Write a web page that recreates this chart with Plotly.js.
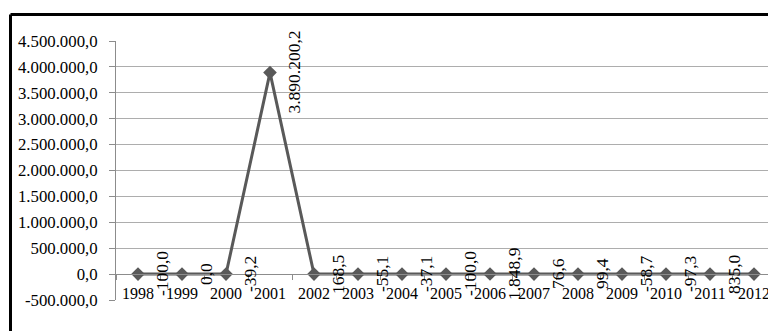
<!DOCTYPE html>
<html>
<head>
<meta charset="utf-8">
<script src="https://cdn.plot.ly/plotly-3.0.1.min.js"></script>
<style>
  html, body { margin: 0; padding: 0; background: #ffffff; }
  #chart { width: 768px; height: 331px; }
</style>
</head>
<body>
<div id="chart"></div>
<script>
// Yearly series
const years = ['1998', '1999', '2000', '2001', '2002', '2003', '2004', '2005',
               '2006', '2007', '2008', '2009', '2010', '2011', '2012'];
const values = [-100.0, 0.0, -39.2, 3890200.2, 168.5, -55.1, -37.1, -100.0,
                1848.9, 76.6, 99.4, -58.7, -97.3, 835.0, 0.0];

// Value axis ticks
const yTickValues = [-500000, 0, 500000, 1000000, 1500000, 2000000, 2500000,
                     3000000, 3500000, 4000000, 4500000];

const FONT = 'Liberation Serif';
const LINE_GREY = '#595959';
const GRID_GREY = '#adadad';
const AXIS_GREY = '#8c8c8c';

// 1.234.567,8 style number text
function fmt(v) {
  const neg = v < 0;
  const parts = Math.abs(v).toFixed(1).split('.');
  const intPart = parts[0].replace(/\B(?=(\d{3})+(?!\d))/g, '.');
  return (neg ? '-' : '') + intPart + ',' + parts[1];
}

const yMin = yTickValues[0];
const yMax = yTickValues[yTickValues.length - 1];

const trace = {
  x: years,
  y: values,
  type: 'scatter',
  mode: 'lines+markers',
  line: { color: LINE_GREY, width: 3 },
  marker: { symbol: 'diamond', size: 10.5, color: LINE_GREY },
  hoverinfo: 'x+y',
  showlegend: false
};

// Vertical value labels to the right of each point
const labels = years.map((yr, i) => ({
  x: i,
  y: values[i],
  xref: 'x',
  yref: 'y',
  text: fmt(values[i]),
  textangle: -90,
  xshift: 24,
  showarrow: false,
  font: { family: FONT, size: 17.5, color: '#000000' }
}));

const margin = { l: 116, r: 0, t: 41, b: 31 };
const plotW = 768 - margin.l - margin.r;
const plotH = 331 - margin.t - margin.b;
const px2paperX = p => (p - margin.l) / plotW;
const px2paperY = p => (331 - margin.b - p) / plotH;

const layout = {
  width: 768,
  height: 331,
  margin: margin,
  paper_bgcolor: '#ffffff',
  plot_bgcolor: '#ffffff',
  font: { family: FONT, color: '#000000' },
  xaxis: {
    type: 'category',
    range: [-0.5, -0.5 + plotW / 44],
    anchor: 'free',
    position: (0 - yMin) / (yMax - yMin),
    showline: true,
    linecolor: AXIS_GREY,
    linewidth: 1,
    showgrid: false,
    ticks: 'outside',
    ticklen: 5,
    tickcolor: AXIS_GREY,
    tickson: 'boundaries',
    ticklabelstandoff: 5,
    tickfont: { family: FONT, size: 16, color: '#000000' },
    zeroline: false,
    fixedrange: true
  },
  yaxis: {
    range: [yMin, yMax],
    tickvals: yTickValues,
    ticktext: yTickValues.map(fmt),
    showline: true,
    linecolor: AXIS_GREY,
    linewidth: 1,
    showgrid: true,
    gridcolor: GRID_GREY,
    gridwidth: 1,
    zeroline: true,
    zerolinecolor: AXIS_GREY,
    zerolinewidth: 1,
    ticks: 'outside',
    ticklen: 6,
    tickcolor: AXIS_GREY,
    ticklabelstandoff: 8,
    tickfont: { family: FONT, size: 16.8, color: '#000000' },
    fixedrange: true
  },
  annotations: labels,
  shapes: [
    // chart frame (top and left edges)
    { type: 'line', xref: 'paper', yref: 'paper',
      x0: px2paperX(10.5), x1: px2paperX(800),
      y0: px2paperY(14.5), y1: px2paperY(14.5),
      line: { color: '#000000', width: 3 } },
    { type: 'line', xref: 'paper', yref: 'paper',
      x0: px2paperX(10.5), x1: px2paperX(10.5),
      y0: px2paperY(14.5), y1: px2paperY(360),
      line: { color: '#000000', width: 3 } }
  ]
};

Plotly.newPlot('chart', [trace], layout, { displayModeBar: false, staticPlot: true });
</script>
</body>
</html>
